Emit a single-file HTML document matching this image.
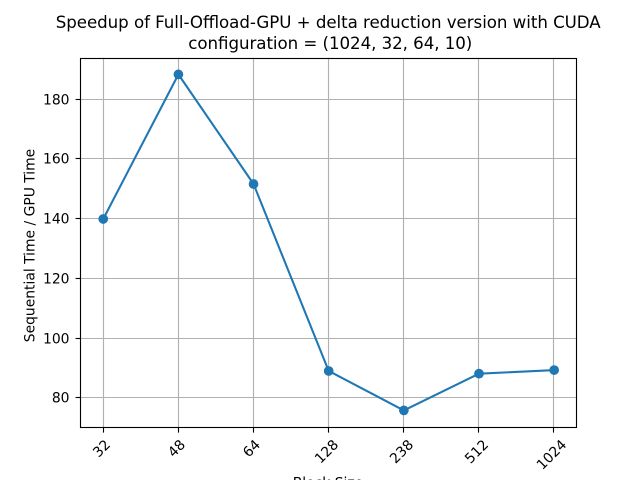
<!DOCTYPE html>
<html lang="en">
<head>
<meta charset="utf-8">
<title>Speedup chart</title>
<style>
  html, body { margin: 0; padding: 0; background: #fff; }
  body { width: 640px; height: 480px; overflow: hidden; }
  svg { display: block; font-family: "DejaVu Sans", "Liberation Sans", sans-serif; fill: #000; }
</style>
</head>
<body>
<svg id="chart" width="640" height="480" viewBox="0 0 640 480" xmlns="http://www.w3.org/2000/svg">
  <rect width="640" height="480" fill="#fff"></rect>
  <text x="328.2" y="28" font-size="16.67" text-anchor="middle" textLength="545" lengthAdjust="spacing">Speedup of Full-Offload-GPU + delta reduction version with CUDA</text>
  <text x="330.3" y="49" font-size="16.67" text-anchor="middle" textLength="284" lengthAdjust="spacing">configuration = (1024, 32, 64, 10)</text>
  <text transform="translate(34.5 245.5) rotate(-90)" font-size="13.89" text-anchor="middle">Sequential Time / GPU Time</text>
  <text x="328" y="487.5" font-size="13.89" text-anchor="middle">Block Size</text>
  <g id="grid"></g>
  <g id="ticks"></g>
  <g id="series"></g>
  <g id="spines"></g>
</svg>
<script>
const categories = ["32", "48", "64", "128", "238", "512", "1024"];
const speedup = [139.7, 188.1, 151.4, 88.8, 75.6, 87.9, 89.1];
const yTickLabels = [80, 100, 120, 140, 160, 180];

const plot = { left: 80, right: 576, top: 57.6, bottom: 427.2 };
const NS = 'http://www.w3.org/2000/svg';

const yMinData = Math.min(...speedup);
const yMaxData = Math.max(...speedup);
const yPad = (yMaxData - yMinData) * 0.05;
const yDomain = [yMinData - yPad, yMaxData + yPad];
const xDomain = [-0.3, categories.length - 1 + 0.3];

function xScale(i) {
  return plot.left + (i - xDomain[0]) / (xDomain[1] - xDomain[0]) * (plot.right - plot.left);
}
function yScale(v) {
  return plot.bottom - (v - yDomain[0]) / (yDomain[1] - yDomain[0]) * (plot.bottom - plot.top);
}
function snap(p) {
  return Math.round(p) + 0.5;
}
function make(tag, attrs, parent) {
  const el = document.createElementNS(NS, tag);
  for (const k in attrs) el.setAttribute(k, attrs[k]);
  parent.appendChild(el);
  return el;
}

const gridG = document.getElementById('grid');
const ticksG = document.getElementById('ticks');
const seriesG = document.getElementById('series');
const spinesG = document.getElementById('spines');
const LW = 1.11;

categories.forEach(function (label, i) {
  const px = snap(xScale(i));
  const g = make('line', { x1: px, x2: px, y1: plot.top, y2: plot.bottom, stroke: '#b0b0b0', 'stroke-width': LW }, gridG);
  
  
  const t = make('line', { x1: px, x2: px, y1: plot.bottom, y2: plot.bottom + 5.4, stroke: '#000', 'stroke-width': LW }, ticksG);
  
  
  const half = label.length * 4.42;
  const off = half * Math.SQRT1_2 + 5;
  const cy = plot.bottom + 10.5 + off;
  const txt = make('text', { 'font-size': 13.89, 'text-anchor': 'middle', 'dominant-baseline': 'central', transform: 'translate(' + (px - 1.5) + ' ' + cy + ') rotate(-45)' }, ticksG);
  txt.textContent = label;
  
  
});

yTickLabels.forEach(function (v) {
  const py = snap(yScale(v));
  const g = make('line', { x1: plot.left, x2: plot.right, y1: py, y2: py, stroke: '#b0b0b0', 'stroke-width': LW }, gridG);
  
  
  const t = make('line', { x1: plot.left - 4.4, x2: plot.left + 0.5, y1: py, y2: py, stroke: '#000', 'stroke-width': LW }, ticksG);
  
  
  const txt = make('text', { x: plot.left - 10.5, y: py + 5, 'font-size': 13.89, 'text-anchor': 'end' }, ticksG);
  txt.textContent = String(v);
  
  
});

const linePoints = speedup.map(function (v, i) {
  return (xScale(i) + 0.7) + ',' + yScale(v);
}).join(' ');
const seriesLine = make('polyline', { points: linePoints, fill: 'none', stroke: '#1f77b4', 'stroke-width': 2.08, 'stroke-linejoin': 'round', 'stroke-linecap': 'square' }, seriesG);



speedup.forEach(function (v, i) {
  const c = make('circle', { cx: xScale(i) + 0.7, cy: yScale(v), r: 4.86, fill: '#1f77b4' }, seriesG);
  
  
});

const frame = make('rect', { x: plot.left + 0.5, y: plot.top + 0.9, width: plot.right - plot.left, height: plot.bottom - plot.top - 0.6, fill: 'none', stroke: '#000', 'stroke-width': LW }, spinesG);


</script>
</body>
</html>
